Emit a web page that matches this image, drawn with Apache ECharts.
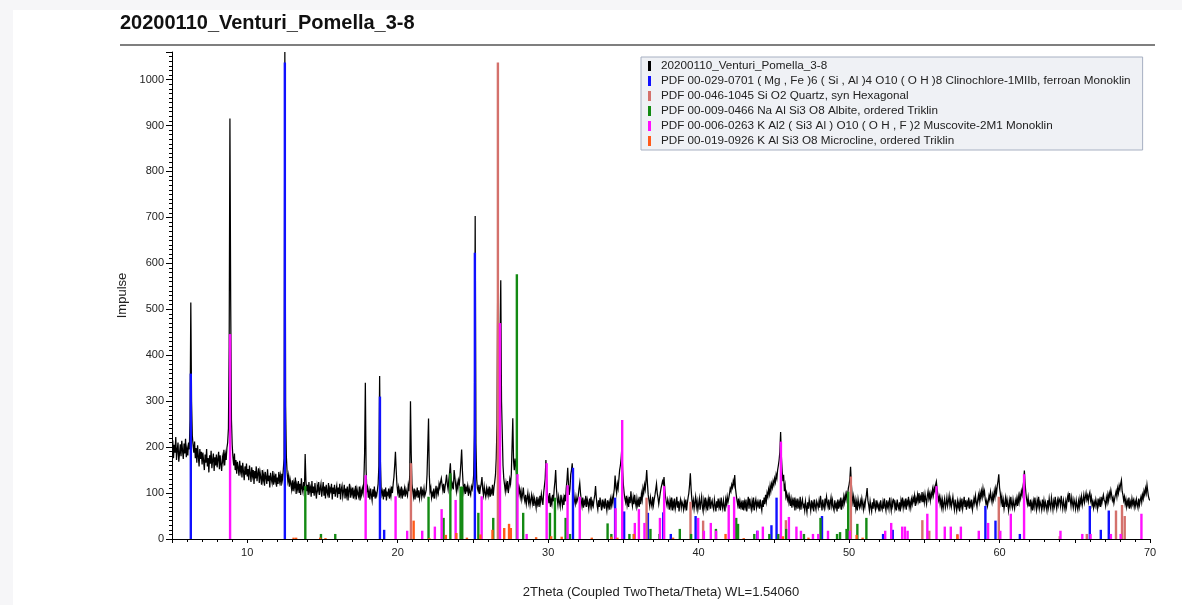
<!DOCTYPE html>
<html>
<head>
<meta charset="utf-8">
<title>20200110_Venturi_Pomella_3-8</title>
<script src="https://cdn.jsdelivr.net/npm/echarts@6/dist/echarts.min.js"></script>
<style>
  html, body { margin: 0; padding: 0; background: #f6f6f8; }
  #chart { width: 1182px; height: 605px; }
</style>
</head>
<body>
<div id="chart"></div>
<script>
// ---- measured scan: 2Theta from scanStart in steps of scanStep (one row per degree) ----
const scanTitle = '20200110_Venturi_Pomella_3-8';
const scanStart = 5.0;
const scanStep = 0.05;
const counts = [
  /* 5 */ 198, 215, 176, 205, 188, 222, 172, 194, 210, 168, 186, 206, 180, 214, 192, 174, 208, 186, 218, 178,
  /* 6 */ 196, 182, 210, 195, 260, 515, 300, 225, 204, 188, 212, 176, 198, 166, 204, 180, 158, 196, 174, 190,
  /* 7 */ 162, 188, 170, 150, 184, 166, 196, 158, 176, 145, 182, 164, 192, 154, 172, 186, 148, 178, 160, 184,
  /* 8 */ 156, 174, 190, 152, 182, 162, 148, 178, 168, 194, 160, 184, 172, 198, 210, 240, 420, 915, 520, 260,
  /* 9 */ 205, 178, 160, 186, 150, 172, 142, 168, 156, 138, 170, 148, 160, 134, 166, 146, 128, 158, 140, 164,
  /*10 */ 136, 152, 128, 160, 144, 124, 156, 138, 150, 120, 148, 132, 158, 126, 142, 154, 122, 146, 134, 118,
  /*11 */ 150, 128, 140, 116, 146, 134, 120, 152, 126, 138, 112, 144, 130, 122, 148, 118, 136, 126, 142, 114,
  /*12 */ 134, 120, 146, 126, 138, 116, 142, 130, 152, 175, 1060, 290, 180, 145, 126, 138, 114, 130, 120, 108,
  /*13 */ 128, 104, 122, 112, 134, 98, 118, 108, 126, 100, 120, 96, 132, 110, 102, 124, 106, 185, 128, 104,
  /*14 */ 118, 96, 124, 104, 112, 92, 126, 100, 114, 94, 122, 102, 88, 116, 106, 124, 96, 110, 120, 92,
  /*15 */ 108, 124, 94, 114, 88, 118, 102, 96, 122, 90, 110, 104, 120, 86, 112, 98, 118, 92, 106, 116,
  /*16 */ 90, 112, 98, 120, 86, 108, 116, 92, 104, 118, 88, 110, 96, 114, 84, 106, 120, 90, 108, 98,
  /*17 */ 112, 88, 104, 94, 116, 86, 108, 98, 92, 114, 84, 106, 96, 110, 100, 125, 185, 340, 150, 105,
  /*18 */ 112, 90, 104, 86, 110, 96, 84, 108, 92, 114, 88, 100, 94, 106, 120, 160, 355, 170, 110, 96,
  /*19 */ 104, 86, 108, 92, 112, 84, 100, 96, 110, 88, 106, 94, 114, 100, 120, 135, 160, 190, 150, 118,
  /*20 */ 102, 112, 90, 106, 96, 114, 88, 104, 98, 110, 92, 108, 100, 94, 116, 104, 140, 300, 185, 120,
  /*21 */ 104, 92, 110, 86, 102, 96, 112, 90, 106, 88, 100, 114, 92, 104, 96, 110, 94, 100, 108, 140,
  /*22 */ 200, 262, 140, 104, 112, 90, 100, 94, 110, 88, 102, 116, 96, 108, 100, 120, 112, 124, 132, 118,
  /*23 */ 106, 120, 100, 114, 126, 140, 118, 108, 130, 145, 165, 130, 112, 120, 108, 150, 135, 118, 104, 122,
  /*24 */ 110, 128, 120, 140, 165, 195, 150, 118, 104, 120, 98, 112, 106, 116, 94, 110, 102, 96, 114, 108,
  /*25 */ 118, 140, 230, 703, 210, 130, 110, 104, 118, 98, 112, 120, 135, 108, 96, 114, 100, 92, 110, 98,
  /*26 */ 108, 96, 114, 92, 106, 100, 118, 94, 112, 125, 140, 175, 250, 570, 380, 300, 420, 563, 300, 230,
  /*27 */ 160, 132, 118, 104, 122, 110, 126, 100, 114, 130, 120, 140, 200, 263, 170, 150, 175, 160, 140, 125,
  /*28 */ 118, 100, 110, 92, 104, 86, 98, 112, 90, 82, 96, 76, 88, 100, 80, 92, 74, 86, 96, 78,
  /*29 */ 90, 72, 88, 80, 68, 92, 76, 84, 70, 94, 80, 98, 86, 74, 100, 115, 130, 172, 130, 100,
  /*30 */ 92, 78, 100, 70, 86, 76, 96, 82, 108, 125, 150, 110, 88, 74, 92, 80, 70, 96, 84, 72,
  /*31 */ 88, 74, 96, 82, 110, 128, 155, 120, 96, 110, 140, 150, 165, 125, 98, 84, 76, 92, 80, 86,
  /*32 */ 94, 110, 122, 100, 84, 72, 90, 68, 82, 76, 94, 70, 86, 78, 66, 88, 74, 92, 70, 80,
  /*33 */ 72, 86, 96, 115, 90, 74, 64, 84, 70, 90, 76, 62, 86, 72, 80, 66, 88, 74, 62, 84,
  /*34 */ 70, 80, 64, 86, 74, 90, 78, 96, 110, 138, 112, 100, 120, 110, 130, 150, 160, 175, 200, 150,
  /*35 */ 118, 100, 88, 80, 94, 74, 86, 70, 92, 78, 104, 84, 72, 90, 76, 96, 80, 70, 88, 74,
  /*36 */ 84, 70, 92, 76, 98, 86, 110, 100, 118, 108, 126, 150, 120, 96, 84, 72, 90, 78, 70, 92,
  /*37 */ 74, 86, 96, 108, 120, 100, 90, 76, 88, 100, 110, 118, 126, 120, 135, 110, 92, 80, 72, 86,
  /*38 */ 78, 64, 84, 72, 90, 62, 80, 70, 88, 66, 76, 92, 68, 82, 60, 78, 86, 68, 80, 74,
  /*39 */ 64, 82, 70, 86, 62, 78, 90, 100, 118, 143, 110, 86, 72, 84, 66, 80, 92, 70, 82, 64,
  /*40 */ 76, 88, 64, 80, 92, 70, 60, 84, 72, 90, 68, 80, 62, 86, 74, 92, 66, 78, 84, 70,
  /*41 */ 64, 86, 74, 60, 82, 68, 88, 70, 80, 62, 90, 74, 66, 84, 72, 60, 86, 76, 92, 80,
  /*42 */ 88, 98, 110, 104, 118, 112, 126, 118, 139, 110, 96, 84, 74, 88, 66, 82, 70, 78, 64, 84,
  /*43 */ 62, 80, 70, 86, 60, 76, 92, 66, 88, 74, 64, 82, 70, 90, 62, 78, 86, 68, 80, 72,
  /*44 */ 80, 66, 86, 72, 62, 84, 70, 90, 76, 96, 82, 100, 92, 108, 98, 116, 104, 120, 112, 126,
  /*45 */ 118, 132, 124, 140, 132, 150, 160, 172, 190, 233, 180, 150, 126, 140, 104, 116, 92, 100, 86, 94,
  /*46 */ 80, 92, 72, 86, 68, 84, 76, 90, 62, 82, 72, 88, 66, 80, 70, 92, 64, 78, 86, 70,
  /*47 */ 74, 62, 82, 70, 58, 80, 66, 86, 74, 62, 84, 70, 78, 60, 86, 72, 64, 82, 76, 68,
  /*48 */ 82, 68, 94, 78, 62, 86, 72, 66, 88, 74, 92, 80, 70, 86, 64, 78, 90, 72, 84, 68,
  /*49 */ 62, 84, 70, 76, 60, 86, 66, 80, 72, 90, 64, 82, 74, 92, 80, 96, 86, 100, 94, 110,
  /*50 */ 118, 130, 157, 120, 96, 80, 92, 70, 84, 66, 80, 62, 86, 74, 68, 82, 72, 88, 76, 64,
  /*51 */ 80, 70, 86, 96, 111, 84, 74, 62, 82, 70, 60, 80, 66, 88, 72, 64, 84, 70, 78, 66,
  /*52 */ 74, 60, 84, 70, 64, 80, 66, 88, 72, 62, 84, 70, 78, 66, 90, 74, 62, 82, 72, 86,
  /*53 */ 84, 66, 76, 62, 86, 72, 66, 80, 60, 84, 74, 90, 68, 80, 72, 88, 64, 82, 76, 92,
  /*54 */ 70, 80, 68, 86, 76, 90, 82, 94, 72, 88, 80, 96, 84, 100, 78, 92, 86, 102, 80, 94,
  /*55 */ 80, 98, 86, 76, 94, 104, 88, 98, 84, 100, 92, 108, 96, 112, 104, 118, 125, 110, 96, 84,
  /*56 */ 92, 76, 88, 70, 84, 66, 78, 88, 68, 76, 90, 72, 82, 94, 74, 86, 70, 80, 92, 76,
  /*57 */ 64, 86, 72, 62, 82, 70, 80, 60, 82, 72, 88, 66, 78, 92, 70, 84, 64, 80, 74, 90,
  /*58 */ 66, 80, 72, 86, 64, 76, 88, 78, 94, 80, 70, 86, 96, 82, 100, 88, 104, 92, 110, 96,
  /*59 */ 104, 86, 76, 84, 72, 82, 94, 86, 102, 90, 80, 96, 86, 104, 92, 110, 100, 116, 126, 141,
  /*60 */ 112, 100, 80, 92, 70, 84, 66, 78, 90, 70, 86, 74, 62, 84, 72, 92, 76, 68, 86, 74,
  /*61 */ 66, 84, 76, 88, 72, 92, 80, 96, 88, 104, 96, 112, 124, 149, 120, 100, 86, 76, 90, 72,
  /*62 */ 72, 86, 66, 78, 62, 82, 70, 90, 76, 64, 84, 72, 92, 68, 80, 74, 64, 86, 70, 84,
  /*63 */ 68, 80, 72, 62, 84, 70, 88, 74, 66, 90, 78, 64, 82, 72, 92, 76, 66, 84, 74, 88,
  /*64 */ 84, 72, 94, 78, 66, 84, 74, 64, 82, 70, 88, 96, 80, 100, 86, 72, 90, 78, 68, 86,
  /*65 */ 78, 66, 84, 72, 64, 82, 70, 88, 78, 92, 74, 84, 96, 80, 90, 100, 86, 94, 82, 96,
  /*66 */ 102, 84, 92, 74, 82, 68, 80, 72, 86, 76, 66, 88, 74, 84, 70, 92, 78, 88, 96, 84,
  /*67 */ 82, 72, 90, 80, 96, 84, 100, 92, 106, 96, 84, 90, 78, 88, 96, 104, 92, 110, 100, 116,
  /*68 */ 108, 120, 128, 104, 96, 84, 92, 76, 86, 70, 82, 74, 90, 66, 80, 72, 88, 76, 84, 70,
  /*69 */ 82, 72, 86, 76, 68, 88, 74, 84, 92, 80, 96, 88, 104, 96, 110, 100, 118, 104, 92, 86,
  /*70 */ 84
];

// ---- reference patterns: [2Theta, scaled intensity] ----
const clinochloreName = 'PDF 00-029-0701 ( Mg , Fe )6 ( Si , Al )4 O10 ( O H )8 Clinochlore-1MIIb, ferroan Monoklin';
const clinochloreSticks = [
  [6.25, 360], [12.5, 1037], [18.82, 310], [19.1, 20], [25.13, 623], [31.65, 155],
  [34.45, 90], [35.05, 60], [36.63, 57], [37.65, 58], [38.15, 11], [39.8, 50],
  [43.9, 18], [44.84, 30], [45.18, 90], [48.2, 50], [52.26, 11], [52.9, 20],
  [59.06, 72], [59.73, 40], [61.35, 11], [66.0, 72], [66.73, 20], [67.26, 62]
];

const quartzName = 'PDF 00-046-1045 Si O2 Quartz, syn Hexagonal';
const quartzSticks = [
  [20.88, 165], [26.66, 1037], [36.54, 90], [39.46, 81], [40.3, 40], [45.8, 41],
  [50.12, 136], [54.87, 41], [55.33, 18], [57.2, 11], [59.95, 92], [64.0, 6],
  [65.8, 11], [67.74, 62], [68.14, 74], [68.32, 50]
];

const albiteName = 'PDF 00-009-0466 Na Al Si3 O8 Albite, ordered Triklin';
const albiteSticks = [
  [13.86, 115], [14.9, 11], [15.85, 11], [22.05, 92], [23.05, 46], [23.5, 143],
  [24.18, 114], [24.29, 114], [25.36, 57], [26.35, 46], [27.92, 576], [28.34, 57],
  [30.12, 57], [30.45, 90], [31.16, 46], [31.45, 11], [33.95, 34], [34.2, 11],
  [35.4, 11], [35.7, 11], [36.8, 22], [37.4, 11], [38.75, 22], [39.5, 11],
  [41.15, 22], [42.5, 46], [42.62, 33], [43.7, 11], [44.7, 11], [45.3, 11],
  [45.82, 22], [47.0, 11], [48.1, 46], [49.2, 11], [49.4, 15], [49.83, 22],
  [49.94, 103], [50.55, 33], [51.15, 46]
];

const muscoviteName = 'PDF 00-006-0263 K Al2 ( Si3 Al ) O10 ( O H , F )2 Muscovite-2M1 Monoklin';
const muscoviteSticks = [
  [8.86, 446], [17.87, 139], [19.86, 93], [20.63, 18], [21.63, 18], [22.47, 27],
  [22.92, 65], [23.85, 85], [25.58, 93], [26.8, 470], [27.96, 141], [28.57, 11],
  [29.9, 165], [31.29, 117], [32.1, 92], [34.48, 67], [34.92, 259], [35.76, 35],
  [36.03, 65], [36.4, 35], [37.43, 46], [37.71, 115], [39.97, 46], [40.35, 18],
  [40.81, 35], [41.16, 18], [42.0, 74], [42.36, 92], [43.92, 18], [44.27, 27],
  [45.47, 212], [46.0, 48], [46.5, 27], [46.8, 18], [47.6, 11], [47.95, 11],
  [48.6, 18], [50.05, 18], [52.4, 18], [52.8, 35], [53.53, 27], [53.71, 27],
  [53.89, 18], [55.2, 55], [55.81, 115], [56.36, 27], [56.76, 27], [57.43, 27],
  [58.62, 18], [59.24, 35], [60.05, 18], [60.75, 55], [61.63, 141], [64.05, 18],
  [65.5, 11], [66.05, 11], [67.4, 11], [68.05, 11], [69.43, 55]
];

const microclineName = 'PDF 00-019-0926 K Al Si3 O8 Microcline, ordered Triklin';
const microclineSticks = [
  [13.08, 3], [13.25, 3], [14.85, 3], [15.2, 2], [21.06, 40], [22.1, 2],
  [23.2, 9], [23.9, 13], [24.6, 3], [25.5, 10], [26.3, 20], [27.08, 24],
  [27.4, 33], [27.52, 24], [29.2, 4], [30.2, 6], [30.9, 5], [32.9, 3],
  [34.2, 5], [34.6, 3], [35.7, 11], [38.3, 3], [41.79, 11], [43.0, 2],
  [45.6, 6], [47.3, 3], [50.5, 9], [50.9, 3], [57.2, 9]
];

// axis settings
const xMin = 5, xMax = 70;
const yMin = 0, yMax = 1060;
const xLabelStep = 10;
const yLabelStep = 100;

// ---- build ----
const scanData = counts.map((c, i) => [+(scanStart + i * scanStep).toFixed(2), c]);

// the scan is drawn as one unsimplified polyline through the axis scales
function scanItem(params, api) {
  const pts = scanData.map(d => api.coord(d));
  return {
    type: 'polyline',
    shape: { points: pts },
    style: { stroke: '#000', lineWidth: 1.25, fill: null, lineJoin: 'miter' }
  };
}

function stickItem(params, api) {
  const x = api.value(0);
  const top = api.coord([x, api.value(1)]);
  const base = api.coord([x, 0]);
  const w = 2.4;
  return {
    type: 'rect',
    shape: { x: top[0] - w / 2, y: top[1], width: w, height: base[1] - top[1] },
    style: { fill: api.visual('color') }
  };
}

function stickSeries(name, data, color, z) {
  return {
    name: name,
    type: 'custom',
    renderItem: stickItem,
    data: data,
    encode: { x: 0, y: 1 },
    itemStyle: { color: color },
    clip: true,
    z: z,
    silent: true
  };
}

const font = '"Liberation Sans", Arial, Helvetica, sans-serif';

const chart = echarts.init(document.getElementById('chart'), null, { renderer: 'canvas' });
chart.setOption({
  backgroundColor: '#f6f6f8',
  animation: false,
  textStyle: { fontFamily: font },
  title: {
    text: scanTitle,
    left: 115,
    top: 8,
    textStyle: { fontFamily: font, fontSize: 20, fontWeight: 'bold', color: '#111' }
  },
  graphic: [
    {
      type: 'rect', z: -10, silent: true,
      shape: { x: 13, y: 10, width: 1169, height: 595 },
      style: { fill: '#ffffff' }
    },
    {
      type: 'line', silent: true,
      shape: { x1: 120, y1: 45, x2: 1155, y2: 45 },
      style: { stroke: '#555', lineWidth: 1.5 }
    }
  ],
  legend: {
    orient: 'vertical',
    left: 641,
    top: 57,
    icon: 'rect',
    itemWidth: 3,
    itemHeight: 10,
    itemGap: 3,
    padding: [3, 12, 3, 7],
    backgroundColor: '#eff1f5',
    borderColor: '#a7b0c2',
    borderWidth: 1,
    selectedMode: false,
    textStyle: { fontFamily: font, fontSize: 11.7, color: '#222', padding: [0, 0, 0, 5] },
    data: [scanTitle, clinochloreName, quartzName, albiteName, muscoviteName, microclineName]
  },
  grid: { left: 172, right: 32, top: 52, bottom: 66, containLabel: false },
  xAxis: {
    type: 'value',
    min: xMin,
    max: xMax,
    interval: 5,
    name: '2Theta (Coupled TwoTheta/Theta) WL=1.54060',
    nameLocation: 'middle',
    nameGap: 47,
    nameTextStyle: { fontFamily: font, fontSize: 13, color: '#222' },
    axisLine: { lineStyle: { color: '#000', width: 1 } },
    axisTick: { show: true, length: 4, lineStyle: { color: '#000' } },
    minorTick: { show: true, splitNumber: 5, length: 3, lineStyle: { color: '#000' } },
    splitLine: { show: false },
    axisLabel: {
      fontFamily: font, fontSize: 11, color: '#222', margin: 8,
      formatter: v => (v % xLabelStep === 0 ? String(v) : '')
    }
  },
  yAxis: {
    type: 'value',
    min: yMin,
    max: yMax,
    interval: yLabelStep,
    name: 'Impulse',
    nameLocation: 'middle',
    nameGap: 38,
    nameTextStyle: { fontFamily: font, fontSize: 13, color: '#222' },
    axisLine: { show: true, lineStyle: { color: '#000', width: 1 } },
    axisTick: { show: true, length: 6, lineStyle: { color: '#000' } },
    minorTick: { show: true, splitNumber: 10, length: 3, lineStyle: { color: '#000' } },
    splitLine: { show: false },
    axisLabel: {
      fontFamily: font, fontSize: 11, color: '#222', margin: 8,
      formatter: v => (v % yLabelStep === 0 ? String(v) : '')
    }
  },
  series: [
    {
      name: scanTitle,
      type: 'custom',
      renderItem: scanItem,
      data: [[xMin, 0]],
      encode: { x: 0, y: 1 },
      itemStyle: { color: '#000' },
      clip: true,
      z: 2,
      silent: true
    },
    stickSeries(clinochloreName, clinochloreSticks, '#1010ff', 3),
    stickSeries(quartzName, quartzSticks, '#d4716c', 4),
    stickSeries(albiteName, albiteSticks, '#138a13', 5),
    stickSeries(muscoviteName, muscoviteSticks, '#ff10ff', 6),
    stickSeries(microclineName, microclineSticks, '#ff5a1a', 7)
  ]
});
</script>
</body>
</html>
